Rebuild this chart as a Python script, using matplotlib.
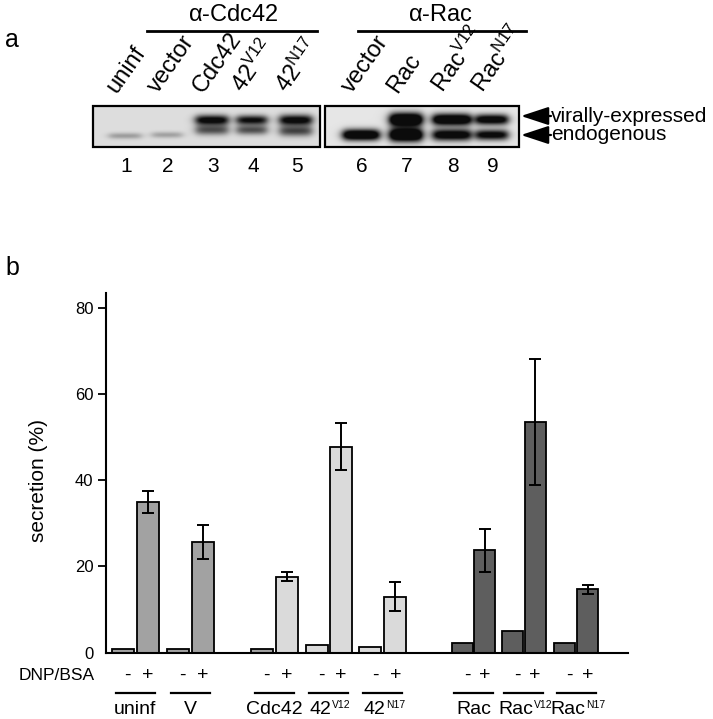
import numpy as np
import matplotlib
matplotlib.use('Agg')
import matplotlib.pyplot as plt

plt.rcParams['font.family'] = ['Liberation Sans', 'DejaVu Sans']
plt.rcParams['mathtext.fontset'] = 'custom'
plt.rcParams['mathtext.rm'] = 'Liberation Sans'
plt.rcParams['mathtext.it'] = 'Liberation Sans'

# ---- panel a: western blot ----
blot_lanes = ['uninf', 'vector', 'Cdc42', r'42$^{\mathrm{V12}}$', r'42$^{\mathrm{N17}}$',
              'vector', 'Rac', r'Rac$^{\mathrm{V12}}$', r'Rac$^{\mathrm{N17}}$']
lane_numbers = ['1', '2', '3', '4', '5', '6', '7', '8', '9']
# band darkness (0 = none, 1 = black) read from the blot
upper_band = [0.0, 0.0, 1.1, 1.0, 1.1, 0.0, 1.6, 1.4, 1.2]
lower_band = [0.3, 0.28, 0.65, 0.65, 0.7, 1.4, 1.6, 1.2, 1.1]

# ---- panel b: secretion ----
group_base = ['uninf', 'V', 'Cdc42', '42', '42', 'Rac', 'Rac', 'Rac']
group_sup = ['', '', '', 'V12', 'N17', '', 'V12', 'N17']
minus_vals = [0.9, 0.9, 0.9, 1.8, 1.3, 2.2, 5.1, 2.2]
plus_vals = [34.9, 25.7, 17.6, 47.8, 13.0, 23.7, 53.4, 14.7]
plus_err = [2.5, 3.9, 1.0, 5.5, 3.4, 5.0, 14.6, 1.0]

# layout (pixel positions)
lane_x = [125, 167, 212, 252, 296, 361, 406, 452, 492]
group_x = [135.3, 190, 274, 328.6, 382.8, 473.4, 523.7, 576.2]
half_gap = [12.5, 12.5, 12.5, 12, 12.5, 11.4, 11.4, 11.6]
bar_w = [22, 22, 22, 22, 22, 21, 21, 21]

med = '#a2a2a2'
light = '#dadada'
dark = '#5e5e5e'
minus_col = [med, med, med, light, light, dark, dark, dark]
plus_col = [med, med, light, light, light, dark, dark, dark]

fig = plt.figure(figsize=(7.13, 7.19), dpi=100)

# bar axes, data x = pixel x
ax = fig.add_axes([106/713, (719-652.7)/719, (628-106)/713, (652.7-293)/719])
for i in range(len(group_base)):
    ax.bar(group_x[i]-half_gap[i], minus_vals[i], width=bar_w[i], color=minus_col[i],
           edgecolor='black', linewidth=1.3, zorder=2)
    ax.bar(group_x[i]+half_gap[i], plus_vals[i], width=bar_w[i], color=plus_col[i],
           edgecolor='black', linewidth=1.3, zorder=2)
    ax.errorbar(group_x[i]+half_gap[i], plus_vals[i], yerr=plus_err[i], fmt='none',
                ecolor='black', elinewidth=1.4, capsize=4, capthick=1.4, zorder=3)
ax.set_xlim(106, 628)
ax.set_ylim(0, 83.4)
ax.spines['top'].set_visible(False)
ax.spines['right'].set_visible(False)
ax.spines['left'].set_linewidth(1.5)
ax.spines['bottom'].set_linewidth(1.5)
ax.set_xticks([])
ax.set_yticks([0, 20, 40, 60, 80])
ax.tick_params(axis='y', length=6, width=1.3, labelsize=12, pad=3)
ax.yaxis.get_major_ticks()[0].tick1line.set_visible(False)
ax.patch.set_alpha(0)

# overlay axes in pixel coordinates
ov = fig.add_axes([0, 0, 1, 1], zorder=-1)
ov.axis('off')

def blot(x0, x1, y0, y1, lanes, ups, lows, y_up, y_low, bg, hw, sig):
    xs = np.linspace(x0, x1, int((x1-x0)*2))
    ys = np.linspace(y0, y1, int((y1-y0)*2))
    X, Y = np.meshgrid(xs, ys)
    d = np.zeros_like(X)
    for k, lx in enumerate(lanes):
        prof = 1/(1+np.exp((np.abs(X-lx)-hw[k])/2.5))
        d += ups[k]*prof*np.exp(-0.5*((Y-y_up[k])/sig[k])**2)
        d += lows[k]*prof*np.exp(-0.5*((Y-y_low[k])/sig[k])**2)
    img = bg*(1-np.clip(d, 0, 0.95))
    ov.imshow(img, cmap='gray', vmin=0, vmax=1, extent=(x0, x1, y1, y0),
              aspect='auto', interpolation='bilinear')
    ov.add_patch(plt.Rectangle((x0, y0), x1-x0, y1-y0, fill=False, edgecolor='black', lw=1.6))

blot(93, 320, 106, 147, lane_x[:5], upper_band[:5], lower_band[:5],
     [120, 120, 120, 120, 120], [136, 135, 130, 130, 131], 0.87,
     [16, 15, 16, 15, 16], [2.2, 2.2, 3.6, 3.4, 3.8])
blot(325, 519, 106, 147, lane_x[5:], upper_band[5:], lower_band[5:],
     [119.5, 119.5, 119.5, 119.5], [135, 135, 135, 135], 0.9,
     [18, 16, 19, 16], [4.0, 4.8, 4.2, 3.8])

for i, lab in enumerate(blot_lanes):
    ov.text(lane_x[i]-9, 94, lab, rotation=55, rotation_mode='anchor',
            ha='left', va='baseline', fontsize=17)
    ov.text(lane_x[i]+1, 167, lane_numbers[i], ha='center', va='center', fontsize=15)

ov.text(233.5, 15, r'$\alpha$-Cdc42', ha='center', va='center', fontsize=17)
ov.plot([146.7, 316.7], [30.7, 30.7], color='black', lw=2)
ov.text(440, 15, r'$\alpha$-Rac', ha='center', va='center', fontsize=17)
ov.plot([358, 526], [30.7, 30.7], color='black', lw=2)

for yy, lab in [(116, 'virally-expressed'), (135, 'endogenous')]:
    ov.annotate('', xy=(521, yy), xytext=(551, yy),
                arrowprops=dict(arrowstyle='-|>,head_length=0.85,head_width=0.28',
                                color='black', lw=1.6, shrinkA=0, shrinkB=0,
                                mutation_scale=20))
    ov.text(551, yy, lab, ha='left', va='center', fontsize=15)

ov.text(12, 40, 'a', ha='center', va='center', fontsize=18)
ov.text(12, 268, 'b', ha='center', va='center', fontsize=18)

# labels below bar chart
ov.text(38, 480, 'secretion (%)', rotation=90, ha='center', va='center', fontsize=15)
ov.text(95, 676, 'DNP/BSA', ha='right', va='center', fontsize=12.5)
for i in range(len(group_base)):
    ov.text(group_x[i]-half_gap[i]+5, 675, '-', ha='center', va='center', fontsize=14)
    ov.text(group_x[i]+half_gap[i], 675, '+', ha='center', va='center', fontsize=14)
    ov.plot([group_x[i]-19.5, group_x[i]+19.5], [693, 693], color='black', lw=1.6)
    if group_sup[i]:
        base = ov.text(group_x[i]-8, 709, group_base[i], ha='center', va='center',
                       fontsize=14)
        ov.annotate(group_sup[i], xy=(1.0, 0.42), xycoords=base, ha='left',
                    va='bottom', fontsize=7.5, xytext=(0.3, 0), textcoords='offset points')
    else:
        ov.text(group_x[i], 709, group_base[i], ha='center', va='center', fontsize=14)

ov.set_xlim(0, 713)
ov.set_ylim(719, 0)

fig.savefig('out.png', dpi=100)
